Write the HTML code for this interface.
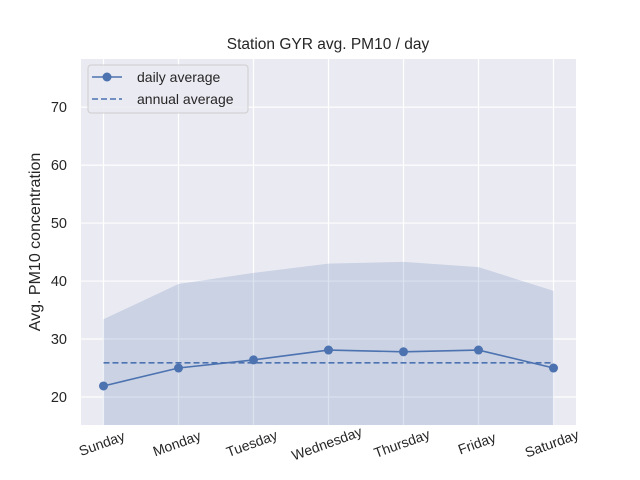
<!DOCTYPE html>
<html><head><meta charset="utf-8"><style>
body{margin:0;background:#fff;}
svg{display:block;font-family:"Liberation Sans","DejaVu Sans",sans-serif;}
</style></head><body>
<svg id="chart" width="640" height="480">
<rect x="0" y="0" width="640" height="480" fill="#fff"/>
<text x="328" y="49" text-anchor="middle" font-size="15.5" fill="#262626">Station GYR avg. PM10 / day</text>
<rect x="81" y="59" width="495" height="366" fill="#eaeaf2"/>
<g id="grid"></g><g id="band"></g><g id="lines"></g><g id="ticks"></g>
<text transform="translate(40,242) rotate(-90)" text-anchor="middle" font-size="16" fill="#262626">Avg. PM10 concentration</text>
<g>
<rect x="88" y="65" width="160" height="48" rx="3" fill="#eaeaf2" stroke="#cccccc" opacity="0.9"/>
<line x1="92" y1="77" x2="122" y2="77" stroke="#4c72b0" stroke-width="1.6"/>
<circle cx="107" cy="77" r="4.5" fill="#4c72b0"/>
<text x="137" y="82" font-size="14" fill="#262626">daily average</text>
<line x1="92" y1="99" x2="122" y2="99" stroke="#4c72b0" stroke-width="1.6" stroke-dasharray="6,3"/>
<text x="137" y="104" font-size="14" fill="#262626">annual average</text>
</g>
</svg>
<script>
const days=["Sunday","Monday","Tuesday","Wednesday","Thursday","Friday","Saturday"];
const dailyAvg=[21.9,25.0,26.4,28.1,27.8,28.1,25.0];
const bandUpper=[33.4,39.5,41.4,43.0,43.3,42.4,38.3];
const bandLower=[10,10,10,10,10,10,10];
const annualAvg=25.9;
const yTicks=[20,30,40,50,60,70];
const NS="http://www.w3.org/2000/svg";
const L=81,R=576,T=59,B=425,xmin=-0.3,xmax=6.3,ymin=15.17,ymax=78.3;
const xs=i=>L+(i-xmin)/(xmax-xmin)*(R-L);
const ys=v=>B-(v-ymin)/(ymax-ymin)*(B-T);
function mk(tag,attrs,parent){const e=document.createElementNS(NS,tag);for(const k in attrs)e.setAttribute(k,attrs[k]);document.getElementById(parent).appendChild(e);return e;}
const clampY=v=>Math.min(B,Math.max(T,ys(v)));
yTicks.forEach(v=>{
 const g=mk("line",{x1:L,x2:R,y1:ys(v),y2:ys(v),stroke:"#fff","stroke-width":1.2},"grid");
 
 
 const t=mk("text",{x:L-14,y:ys(v)+5,"text-anchor":"end","font-size":14.5,fill:"#262626"},"ticks");
 t.textContent=v;
 
 
});
days.forEach((d,i)=>{
 const g=mk("line",{x1:xs(i),x2:xs(i),y1:T,y2:B,stroke:"#fff","stroke-width":1.2},"grid");
 
 
 const x=xs(i),y=448;
 const t=mk("text",{x:x,y:y,"text-anchor":"middle","font-size":14,fill:"#262626",transform:`rotate(-20 ${x} ${y})`},"ticks");
 t.textContent=d;
 
 
});
let p=days.map((d,i)=>`${xs(i)},${clampY(bandUpper[i])}`);
for(let i=days.length-1;i>=0;i--)p.push(`${xs(i)},${clampY(bandLower[i])}`);
const band=mk("polygon",{points:p.join(" "),fill:"#4c72b0","fill-opacity":0.2},"band");


const ann=mk("line",{x1:xs(0),x2:xs(6),y1:ys(annualAvg),y2:ys(annualAvg),stroke:"#4c72b0","stroke-width":1.6,"stroke-dasharray":"6,3"},"lines");


const ln=mk("polyline",{points:dailyAvg.map((v,i)=>`${xs(i)},${ys(v)}`).join(" "),fill:"none",stroke:"#4c72b0","stroke-width":1.6},"lines");


dailyAvg.forEach((v,i)=>{
 const c=mk("circle",{cx:xs(i),cy:ys(v),r:4.5,fill:"#4c72b0"},"lines");
 
 
});
</script>
</body></html>
